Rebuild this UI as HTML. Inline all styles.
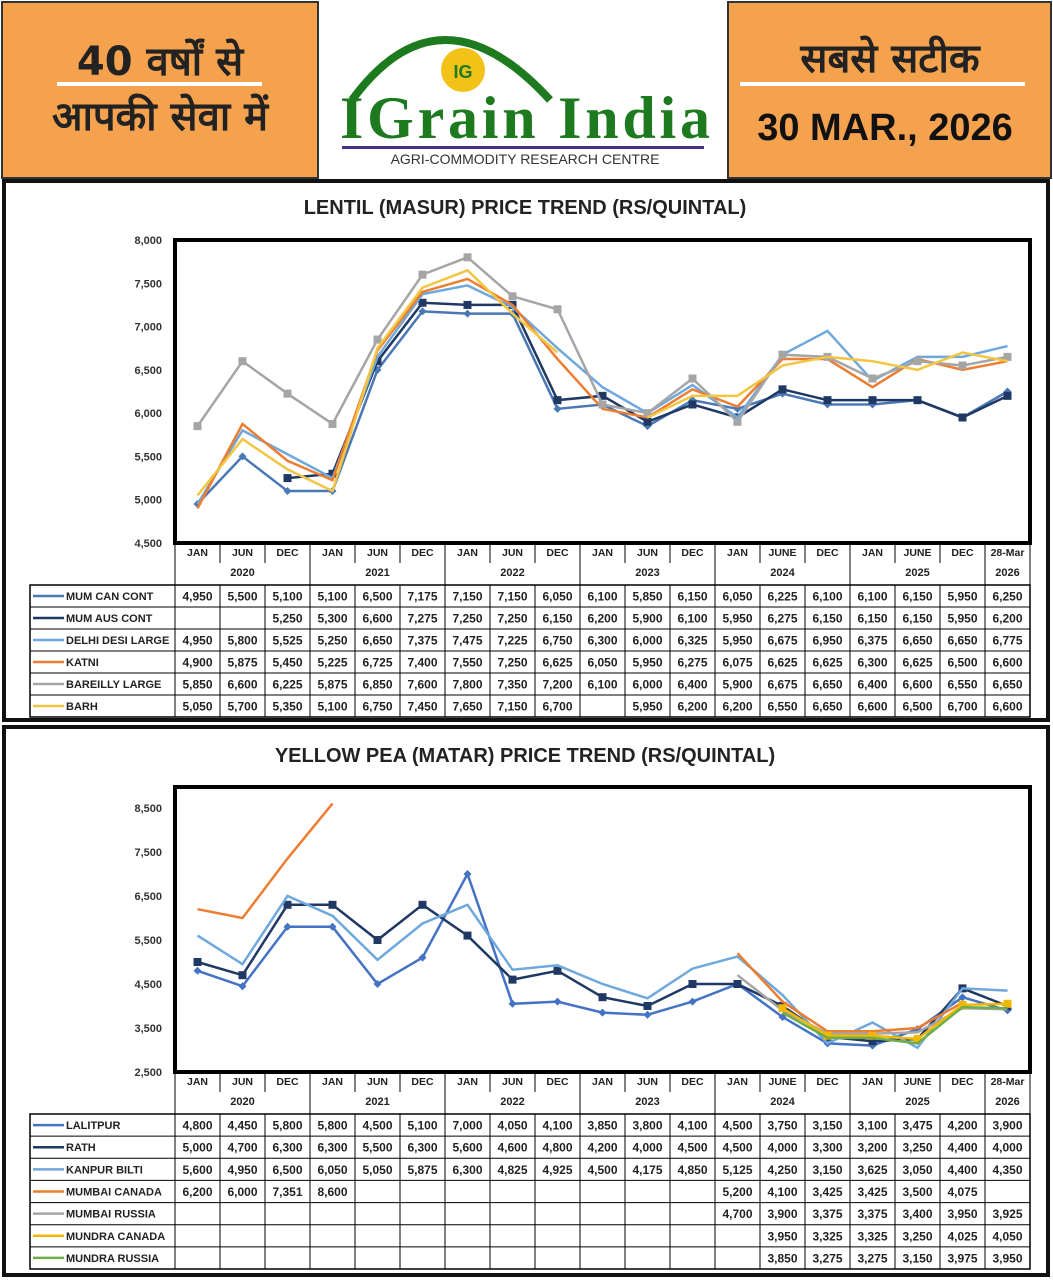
<!DOCTYPE html>
<html><head><meta charset="utf-8">
<style>
body{margin:0;width:1053px;height:1280px;background:#fff;overflow:hidden;font-family:"Liberation Sans",sans-serif}
svg text{font-family:"Liberation Sans","Noto Sans CJK SC",sans-serif}
</style></head><body>
<svg id="s" width="1053" height="1280" xmlns="http://www.w3.org/2000/svg">
<rect x="0" y="0" width="1053" height="1280" fill="#fff"/>
<rect x="2" y="2" width="316" height="176" fill="#f5a24f" stroke="#333" stroke-width="2"/>
<rect x="728" y="2" width="323" height="176" fill="#f5a24f" stroke="#333" stroke-width="2"/>
<text x="160" y="75" font-size="40" text-anchor="middle" fill="#222" style="font-family:'DejaVu Sans',sans-serif" font-weight="bold">40 वर्षों से</text>
<rect x="57" y="82" width="205" height="4" fill="#fff"/>
<text x="160" y="130" font-size="40" text-anchor="middle" fill="#222" style="font-family:'DejaVu Sans',sans-serif" font-weight="bold">आपकी सेवा में</text>
<text x="890" y="72" font-size="40" text-anchor="middle" fill="#222" style="font-family:'DejaVu Sans',sans-serif" font-weight="bold">सबसे सटीक</text>
<rect x="740" y="82" width="285" height="4" fill="#fff"/>
<text x="885" y="140" font-size="38" text-anchor="middle" fill="#111" font-weight="bold">30 MAR., 2026</text>
<path d="M352 100 Q 440 -20 550 100" fill="none" stroke="#1e7a1e" stroke-width="8"/>
<circle cx="463" cy="70" r="22" fill="#f2c219"/>
<text x="463" y="78" font-size="18" text-anchor="middle" fill="#1e7a1e" font-weight="bold">IG</text>
<text x="525" y="138" font-size="60" text-anchor="middle" fill="#1e7a1e" font-weight="bold" style="font-family:'Liberation Serif',serif" textLength="370">IGrain India</text>
<rect x="342" y="146" width="362" height="3" fill="#4b2d8a"/>
<text x="525" y="164" font-size="14" text-anchor="middle" fill="#333">AGRI-COMMODITY RESEARCH CENTRE</text>
<rect x="4" y="181" width="1044" height="539" fill="none" stroke="#111" stroke-width="4"/>
<rect x="4" y="727" width="1044" height="548" fill="none" stroke="#111" stroke-width="4"/>
<text x="525" y="214" font-size="20" text-anchor="middle" fill="#222" font-weight="bold">LENTIL (MASUR) PRICE TREND (RS/QUINTAL)</text>
<text x="525" y="762" font-size="20" text-anchor="middle" fill="#222" font-weight="bold">YELLOW PEA (MATAR) PRICE TREND (RS/QUINTAL)</text>
<g id="g"></g>
</svg>
<script>
const g=document.getElementById('g');let h='';
const labels=['JAN','JUN','DEC','JAN','JUN','DEC','JAN','JUN','DEC','JAN','JUN','DEC','JAN','JUNE','DEC','JAN','JUNE','DEC','28-Mar'];
const years=['2020','2021','2022','2023','2024','2025','2026'];
const fmt=v=>v==null?'':v.toLocaleString('en-US');
function chart(o){
 const X0=175,X1=1030,W=(X1-X0)/19;
 h+=`<rect x="${X0}" y="${o.pt}" width="${X1-X0}" height="${o.pb-o.pt}" fill="none" stroke="#000" stroke-width="4"/>`;
 const Y=v=>o.pb-(v-o.min)*o.k;
 o.ticks.forEach(t=>{const y=Y(t);h+=`<text x="162" y="${y+4}" font-size="11" text-anchor="end" font-weight="bold" fill="#333">${fmt(t)}</text>`;});
 o.series.forEach(s=>{let pts=[];s.d.forEach((v,i)=>{const x=X0+W*(i+.5);if(v==null){if(pts.length)draw(pts,s.c);pts=[];}else pts.push([x,Y(v)]);});if(pts.length)draw(pts,s.c);
  s.d.forEach((v,i)=>{if(v!=null&&s.m){const x=X0+W*(i+.5),y=Y(v);h+=s.m=='sq'?`<rect x="${x-4}" y="${y-4}" width="8" height="8" fill="${s.c}"/>`:`<path d="M${x-4} ${y}L${x} ${y-4}L${x+4} ${y}L${x} ${y+4}Z" fill="${s.c}"/>`;}});});
 function draw(p,c){h+=`<polyline points="${p.map(a=>a.join(',')).join(' ')}" fill="none" stroke="${c}" stroke-width="2.5"/>`;}
 const hy=o.pb, ty=o.tt;
 h+=`<line x1="${X0}" y1="${hy}" x2="${X0}" y2="${ty}" stroke="#000"/>`;
 for(let i=0;i<19;i++){const x=X0+W*i;h+=`<text x="${x+W/2}" y="${hy+13}" font-size="10.5" text-anchor="middle" font-weight="bold" fill="#222">${labels[i]}</text>`;
  const grp=[0,3,6,9,12,15,18].includes(i);h+=`<line x1="${x}" y1="${hy}" x2="${x}" y2="${grp?ty:hy+20}" stroke="#000"/>`;}
 h+=`<line x1="${X1}" y1="${hy}" x2="${X1}" y2="${ty}" stroke="#000"/>`;
 years.forEach((yr,j)=>{const c=j<6?X0+W*(j*3+1.5):X0+W*18.5;h+=`<text x="${c}" y="${hy+33}" font-size="11" text-anchor="middle" font-weight="bold" fill="#222">${yr}</text>`;});
 const n=o.series.length,rh=(o.tb-ty)/n;
 h+=`<rect x="30" y="${ty}" width="${X1-30}" height="${o.tb-ty}" fill="none" stroke="#000" stroke-width="1.5"/>`;
 o.series.forEach((s,r)=>{const y=ty+rh*r;h+=`<line x1="30" y1="${y}" x2="${X1}" y2="${y}" stroke="#000"/>`;
  h+=`<line x1="33" y1="${y+rh/2}" x2="64" y2="${y+rh/2}" stroke="${s.c}" stroke-width="2.5"/><text x="66" y="${y+rh/2+4}" font-size="11" font-weight="bold" fill="#222">${s.n}</text>`;
  s.d.forEach((v,i)=>{h+=`<text x="${X0+W*(i+.5)}" y="${y+rh/2+4.5}" font-size="12" text-anchor="middle" font-weight="bold" fill="#222">${fmt(v)}</text>`;});});
 for(let i=0;i<=19;i++){const x=X0+W*i;h+=`<line x1="${x}" y1="${ty}" x2="${x}" y2="${o.tb}" stroke="#000"/>`;}
}
const N=null;
chart({pt:240,pb:543,min:4500,k:303/3500,tt:585,tb:717,ticks:[4500,5000,5500,6000,6500,7000,7500,8000],series:[
{n:'MUM CAN CONT',c:'#4a78b5',m:'d',d:[4950,5500,5100,5100,6500,7175,7150,7150,6050,6100,5850,6150,6050,6225,6100,6100,6150,5950,6250]},
{n:'MUM AUS CONT',c:'#1f3864',m:'sq',d:[N,N,5250,5300,6600,7275,7250,7250,6150,6200,5900,6100,5950,6275,6150,6150,6150,5950,6200]},
{n:'DELHI DESI LARGE',c:'#6fa8dc',d:[4950,5800,5525,5250,6650,7375,7475,7225,6750,6300,6000,6325,5950,6675,6950,6375,6650,6650,6775]},
{n:'KATNI',c:'#ed7d31',d:[4900,5875,5450,5225,6725,7400,7550,7250,6625,6050,5950,6275,6075,6625,6625,6300,6625,6500,6600]},
{n:'BAREILLY LARGE',c:'#a5a5a5',m:'sq',d:[5850,6600,6225,5875,6850,7600,7800,7350,7200,6100,6000,6400,5900,6675,6650,6400,6600,6550,6650]},
{n:'BARH',c:'#f2c542',d:[5050,5700,5350,5100,6750,7450,7650,7150,6700,N,5950,6200,6200,6550,6650,6600,6500,6700,6600]}]});
chart({pt:787,pb:1072,min:2500,k:44/1000,tt:1114,tb:1269,ticks:[2500,3500,4500,5500,6500,7500,8500],series:[
{n:'LALITPUR',c:'#4472c4',m:'d',d:[4800,4450,5800,5800,4500,5100,7000,4050,4100,3850,3800,4100,4500,3750,3150,3100,3475,4200,3900]},
{n:'RATH',c:'#1f3864',m:'sq',d:[5000,4700,6300,6300,5500,6300,5600,4600,4800,4200,4000,4500,4500,4000,3300,3200,3250,4400,4000]},
{n:'KANPUR BILTI',c:'#6fa8dc',d:[5600,4950,6500,6050,5050,5875,6300,4825,4925,4500,4175,4850,5125,4250,3150,3625,3050,4400,4350]},
{n:'MUMBAI CANADA',c:'#ed7d31',d:[6200,6000,7351,8600,N,N,N,N,N,N,N,N,5200,4100,3425,3425,3500,4075,N]},
{n:'MUMBAI RUSSIA',c:'#a5a5a5',d:[N,N,N,N,N,N,N,N,N,N,N,N,4700,3900,3375,3375,3400,3950,3925]},
{n:'MUNDRA CANADA',c:'#f2b800',m:'sq',d:[N,N,N,N,N,N,N,N,N,N,N,N,N,3950,3325,3325,3250,4025,4050]},
{n:'MUNDRA RUSSIA',c:'#70ad47',d:[N,N,N,N,N,N,N,N,N,N,N,N,N,3850,3275,3275,3150,3975,3950]}]});
g.innerHTML=h;
</script>
</body></html>
